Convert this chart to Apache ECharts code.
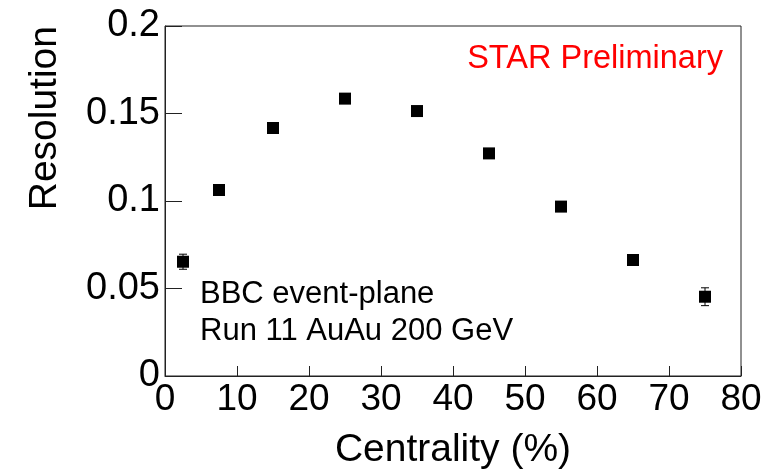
<!DOCTYPE html>
<html>
<head>
<meta charset="utf-8">
<script src="https://cdn.jsdelivr.net/npm/echarts@6/dist/echarts.min.js"></script>
<style>
  html, body { margin: 0; padding: 0; background: #fff; }
  #chart { width: 764px; height: 470px; }
</style>
</head>
<body>
<div id="chart"></div>
<script>
// Event-plane resolution vs. centrality
const centrality = [2.5, 7.5, 15, 25, 35, 45, 55, 65, 75];
const resolution = [0.0653, 0.1063, 0.1417, 0.1585, 0.1514, 0.1272, 0.0968, 0.0663, 0.0453];
const resolutionErr = [0.0043, 0.002, 0.002, 0.002, 0.002, 0.002, 0.002, 0.002, 0.0051];

// Axis tick values
const xTicks = [0, 10, 20, 30, 40, 50, 60, 70, 80];
const yTicks = [0, 0.05, 0.1, 0.15, 0.2];

const FONT = '"Liberation Sans", Arial, Helvetica, sans-serif';
const LINE = '#222';

const points = centrality.map((c, i) => [c, resolution[i]]);
const errBars = centrality.map((c, i) => [c, resolution[i] - resolutionErr[i], resolution[i] + resolutionErr[i]]);

const chart = echarts.init(document.getElementById('chart'), null, { renderer: 'canvas' });

chart.setOption({
  animation: false,
  backgroundColor: '#fff',
  grid: {
    left: 165, right: 23, top: 26, bottom: 94,
    containLabel: false,
    outerBoundsMode: 'none',
    show: true,
    borderColor: LINE,
    borderWidth: 1,
    backgroundColor: 'transparent'
  },
  xAxis: {
    type: 'value',
    min: xTicks[0],
    max: xTicks[xTicks.length - 1],
    interval: xTicks[1] - xTicks[0],
    name: 'Centrality (%)',
    nameLocation: 'middle',
    nameGap: 55,
    nameMoveOverlap: false,
    nameTextStyle: { fontFamily: FONT, fontSize: 39, color: '#000' },
    axisLine: { show: true, lineStyle: { color: LINE, width: 1 } },
    axisTick: { show: true, inside: true, length: 10, lineStyle: { color: LINE, width: 1 } },
    minorTick: { show: false },
    axisLabel: {
      fontFamily: FONT, fontSize: 37, color: '#000', margin: 5,
      showMinLabel: true, showMaxLabel: true, hideOverlap: false
    },
    splitLine: { show: false }
  },
  yAxis: {
    type: 'value',
    min: yTicks[0],
    max: yTicks[yTicks.length - 1],
    interval: yTicks[1] - yTicks[0],
    name: 'Resolution',
    nameLocation: 'end',
    nameRotate: 90,
    nameGap: 0,
    nameMoveOverlap: false,
    nameTextStyle: {
      fontFamily: FONT, fontSize: 39, color: '#000',
      align: 'right', verticalAlign: 'bottom',
      padding: [0, 0, 100, 0]
    },
    axisLine: { show: true, lineStyle: { color: LINE, width: 1 } },
    axisTick: { show: true, inside: true, length: 17, lineStyle: { color: LINE, width: 1 } },
    minorTick: { show: false },
    axisLabel: {
      fontFamily: FONT, fontSize: 38, color: '#000', margin: 5,
      showMinLabel: true, showMaxLabel: true, hideOverlap: false
    },
    splitLine: { show: false }
  },
  graphic: [
    {
      type: 'text',
      x: 723, y: 43,
      style: {
        text: 'STAR Preliminary',
        font: '32.5px ' + FONT,
        fill: '#ff0000',
        textAlign: 'right',
        textVerticalAlign: 'top'
      }
    },
    {
      type: 'text',
      x: 200, y: 276,
      style: {
        text: 'BBC event-plane\nRun 11 AuAu 200 GeV',
        font: '31px ' + FONT,
        lineHeight: 37,
        fill: '#000',
        textAlign: 'left',
        textVerticalAlign: 'top'
      }
    }
  ],
  series: [
    {
      type: 'custom',
      name: 'error',
      data: errBars,
      z: 2,
      silent: true,
      renderItem: function (params, api) {
        const x = api.value(0);
        const lo = api.coord([x, api.value(1)]);
        const hi = api.coord([x, api.value(2)]);
        const cap = 4;
        const style = { stroke: '#000', lineWidth: 1 };
        return {
          type: 'group',
          children: [
            { type: 'line', shape: { x1: lo[0], y1: lo[1], x2: hi[0], y2: hi[1] }, style: style },
            { type: 'line', shape: { x1: lo[0] - cap, y1: lo[1], x2: lo[0] + cap, y2: lo[1] }, style: style },
            { type: 'line', shape: { x1: hi[0] - cap, y1: hi[1], x2: hi[0] + cap, y2: hi[1] }, style: style }
          ]
        };
      }
    },
    {
      type: 'scatter',
      name: 'Resolution',
      data: points,
      symbol: 'rect',
      symbolSize: 12,
      z: 3,
      itemStyle: { color: '#000', opacity: 1 }
    }
  ]
});
</script>
</body>
</html>
